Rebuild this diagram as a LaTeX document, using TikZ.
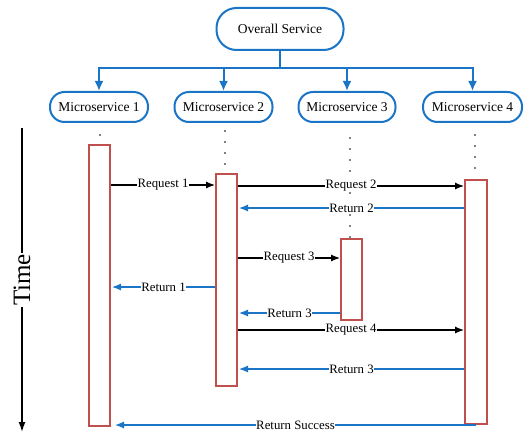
\documentclass[tikz,border=0pt]{standalone}
\usepackage{fontspec}
\setmainfont{Liberation Serif}
\usetikzlibrary{arrows.meta}
\definecolor{linkblue}{HTML}{1A75C6}
\definecolor{barred}{HTML}{C0504D}
\begin{document}
\begin{tikzpicture}[x=1pt,y=-1pt,
  pill/.style={draw=linkblue, line width=2pt, rounded corners=14.5pt, fill=white,
    font=\fontsize{13.5}{15}\selectfont, inner sep=0pt},
  bar/.style={draw=barred, line width=2pt, fill=white, inner sep=0pt, minimum width=21pt},
  busarrow/.style={draw=linkblue, line width=2pt, -{Latex[length=10pt,width=9pt]}},
  req/.style={-{Latex[length=9pt,width=7pt]}, line width=1.2pt},
  ret/.style={-{Latex[length=9pt,width=7pt]}, line width=1.2pt, draw=linkblue},
  lbl/.style={fill=white, inner sep=0.6pt, text=black, font=\fontsize{12.8}{14}\selectfont},
  life/.style={line width=1.8pt, line cap=round, dash pattern=on 0pt off 11pt}
]
\useasboundingbox (0,0) rectangle (527,433);

% services
\node[pill, minimum width=127pt, minimum height=42pt, rounded corners=20pt] (top) at (280,29) {Overall Service};
\node[pill, minimum width=98pt, minimum height=30pt] (m1) at (99,107) {Microservice 1};
\node[pill, minimum width=98pt, minimum height=30pt] (m2) at (223.5,107) {Microservice 2};
\node[pill, minimum width=97pt, minimum height=30pt] (m3) at (347,107) {Microservice 3};
\node[pill, minimum width=99pt, minimum height=30pt] (m4) at (472.5,107) {Microservice 4};

% distribution bus
\coordinate (bus) at (280,68);
\foreach \m in {m1,m2,m3,m4}
  \draw[busarrow] (top.south) -- (bus) -| (\m.north);

% activation bars
\node[bar, minimum height=281pt] (b1) at (99.5,285.5) {};
\node[bar, minimum height=212pt] (b2) at (226.5,280) {};
\node[bar, minimum height=81pt] (b3) at (351.5,279.5) {};
\node[bar, minimum width=22pt, minimum height=244pt] (b4) at (476,302) {};

% lifelines
\draw[life] ([xshift=1pt,yshift=-12pt]m1.south) -- ([xshift=1pt]m1.south |- b1.north);
\draw[life] ([xshift=1.5pt,yshift=-8pt]m2.south) -- ([xshift=1.5pt]m2.south |- b2.north);
\draw[life] ([xshift=3pt,yshift=-15pt]m3.south) -- ([xshift=3pt]m3.south |- b3.north);
\draw[life] ([xshift=2.5pt,yshift=-12pt]m4.south) -- ([xshift=2.5pt]m4.south |- b4.north);

% messages
\draw[req] (b1.east |- 0,185) -- node[lbl] (l1) {Request 1} (b2.west |- 0,185);
\draw[req] (b2.east |- 0,186) -- node[lbl] (l2) {Request 2} (b4.west |- 0,186);
\draw[ret] (b4.west |- 0,208) -- node[lbl] (l3) {Return 2} ([xshift=1pt]b2.east |- 0,208);
\draw[req] (b2.east |- 0,258) -- node[lbl] (l4) {Request 3} (b3.west |- 0,258);
\draw[ret] (b2.west |- 0,287) -- node[lbl] (l5) {Return 1} ([xshift=1pt]b1.east |- 0,287);
\draw[ret] (b3.west |- 0,313) -- node[lbl] (l6) {Return 3} ([xshift=1pt]b2.east |- 0,313);
\draw[req] (b2.east |- 0,330) -- node[lbl] (l7) {Request 4} (b4.west |- 0,330);
\draw[ret] (b4.west |- 0,369) -- node[lbl] (l8) {Return 3} ([xshift=1pt]b2.east |- 0,369);
\draw[ret] (b4.south |- 0,425) -- node[lbl] (l9) {Return Success} ([xshift=4pt]b1.east |- 0,425);

% time axis
\coordinate (t0) at (22,128);
\coordinate (t1) at (22,432);
\draw[line width=1.4pt, -{Latex[length=10pt,width=7pt]}] (t0) -- node[rotate=90, fill=white, inner sep=1pt,
  font=\fontsize{25}{25}\selectfont] (time) {Time} (t1);
\end{tikzpicture}
\end{document}
